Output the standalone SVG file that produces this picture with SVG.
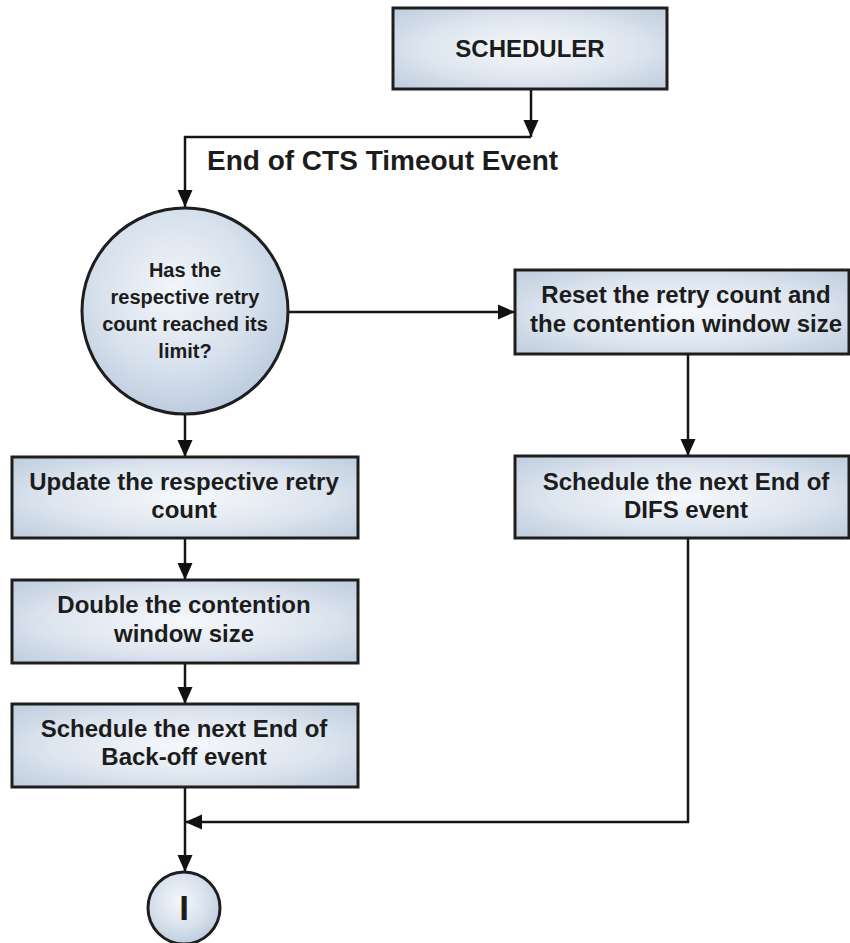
<svg xmlns="http://www.w3.org/2000/svg" width="850" height="943" viewBox="0 0 850 943">
  <defs>
    <radialGradient id="boxFill" cx="50%" cy="50%" r="65%">
      <stop offset="0" stop-color="#f6f8fb"/>
      <stop offset="0.6" stop-color="#dde5ef"/>
      <stop offset="1" stop-color="#c3d0e0"/>
    </radialGradient>
    <radialGradient id="ballFill" cx="45%" cy="40%" r="65%">
      <stop offset="0" stop-color="#f3f6fa"/>
      <stop offset="0.6" stop-color="#d6e0ec"/>
      <stop offset="1" stop-color="#b8c8dc"/>
    </radialGradient>
    <marker id="arrow" markerUnits="userSpaceOnUse" markerWidth="18" markerHeight="18" viewBox="0 0 18 18" refX="17" refY="9" orient="auto">
      <path d="M0 1.5 L17 9 L0 16.5 Z" fill="#111"/>
    </marker>
  </defs>
  <style>
    .box { fill: url(#boxFill); stroke: #1e1e1e; stroke-width: 3; }
    .ball { fill: url(#ballFill); stroke: #1e1e1e; stroke-width: 3; }
    .lbl { font-family: "Liberation Sans", Arial, sans-serif; font-weight: bold; font-size: 24px; fill: #1c1c1c; text-anchor: middle; }
    .q { font-size: 20px; }
    .big { font-size: 35px; }
    .link { fill: none; stroke: #151515; stroke-width: 2.5; }
  </style>

  <rect width="850" height="943" fill="#ffffff"/>

  <g id="connectors">
    <path class="link" d="M531 89 V137" marker-end="url(#arrow)"/>
    <path class="link" d="M531 137 H185 V207" marker-end="url(#arrow)"/>
    <path class="link" d="M288 312 H515" marker-end="url(#arrow)"/>
    <path class="link" d="M185 414 V457" marker-end="url(#arrow)"/>
    <path class="link" d="M185 538 V580" marker-end="url(#arrow)"/>
    <path class="link" d="M185 663 V704" marker-end="url(#arrow)"/>
    <path class="link" d="M185 787 V872" marker-end="url(#arrow)"/>
    <path class="link" d="M688 354 V456" marker-end="url(#arrow)"/>
    <path class="link" d="M688 538 V822 H185" marker-end="url(#arrow)"/>
  </g>

  <g id="scheduler">
    <rect class="box" x="393" y="8" width="274" height="81"/>
    <text class="lbl" x="530" y="57">SCHEDULER</text>
  </g>

  <g id="event-label">
    <text x="207" y="170" font-family="Liberation Sans, Arial, sans-serif" font-weight="bold" font-size="28" fill="#1c1c1c">End of CTS Timeout Event</text>
  </g>

  <g id="retry-limit">
    <circle class="ball" cx="185" cy="311" r="103"/>
    <text class="lbl q" x="185" y="277">Has the</text>
    <text class="lbl q" x="185" y="304">respective retry</text>
    <text class="lbl q" x="185" y="331">count reached its</text>
    <text class="lbl q" x="185" y="358">limit?</text>
  </g>

  <g id="reset">
    <rect class="box" x="515" y="270" width="334" height="84"/>
    <text class="lbl" x="686" y="303">Reset the retry count and</text>
    <text class="lbl" x="686" y="332">the contention window size</text>
  </g>

  <g id="schedule-difs">
    <rect class="box" x="515" y="456" width="334" height="82"/>
    <text class="lbl" x="686" y="490">Schedule the next End of</text>
    <text class="lbl" x="686" y="518">DIFS event</text>
  </g>

  <g id="update-retry">
    <rect class="box" x="12" y="457" width="346" height="81"/>
    <text class="lbl" x="184" y="490">Update the respective retry</text>
    <text class="lbl" x="184" y="518">count</text>
  </g>

  <g id="double-cw">
    <rect class="box" x="12" y="580" width="346" height="83"/>
    <text class="lbl" x="184" y="613">Double the contention</text>
    <text class="lbl" x="184" y="642">window size</text>
  </g>

  <g id="schedule-backoff">
    <rect class="box" x="12" y="704" width="346" height="83"/>
    <text class="lbl" x="184" y="737">Schedule the next End of</text>
    <text class="lbl" x="184" y="765">Back-off event</text>
  </g>

  <g id="connector-i">
    <circle class="ball" cx="184" cy="908" r="36"/>
    <text class="lbl big" x="184" y="920">I</text>
  </g>
</svg>
